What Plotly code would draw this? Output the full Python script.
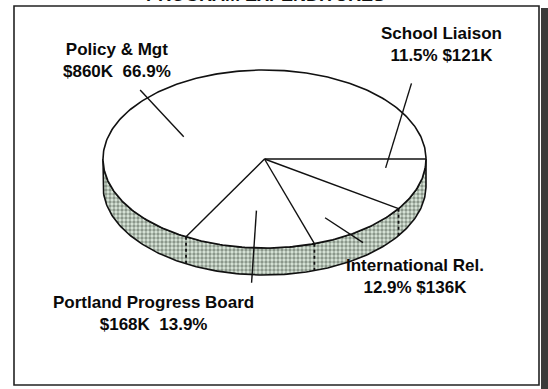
import numpy as np
import plotly.graph_objects as go

# Program expenditures (thousands of dollars), drawn clockwise from 3 o'clock
names = ["School Liaison", "International Rel.", "Portland Progress Board", "Policy & Mgt"]
amounts_k = [121, 136, 168, 860]
pct_text = ["11.5%", "12.9%", "13.9%", "66.9%"]
dollar_first = [False, False, True, True]
title_text = "PROGRAM EXPENDITURES"

# Page / pie geometry (pixel-like data units, y grows downward)
W, H = 548, 389
cx, cy = 264.5, 159.0
rx, ry = 161.5, 89.0
depth = 27.0

vals = np.array(amounts_k, dtype=float)
edges = np.concatenate([[0.0], np.cumsum(vals) / vals.sum() * 360.0])


def pt(t_deg, r=1.0, dy=0.0):
    t = np.radians(t_deg)
    return cx + r * rx * np.cos(t), cy + r * ry * np.sin(t) + dy


fig = go.Figure()

# Front side wall of the disc (visible half: 0..180 deg)
ts = np.linspace(0, 180, 181)
tx, ty = pt(ts)
bx, by = pt(ts[::-1], dy=depth)
fig.add_trace(go.Scatter(
    x=np.concatenate([tx, bx, [tx[0]]]),
    y=np.concatenate([ty, by, [ty[0]]]),
    mode="lines", fill="toself",
    fillcolor="#c9d6c9",
    fillpattern=dict(shape=".", fgcolor="#3c463c", bgcolor="#dbe8db",
                     size=4, solidity=0.55),
    line=dict(color="#111111", width=1.6),
    hoverinfo="skip", showlegend=False))

# Dotted seams on the side wall at slice boundaries
for e in edges[1:-1]:
    if 0 < e < 180:
        x0, y0 = pt(e)
        fig.add_trace(go.Scatter(
            x=[x0, x0], y=[y0, y0 + depth], mode="lines",
            line=dict(color="#111111", width=1.8, dash="dot"),
            hoverinfo="skip", showlegend=False))

# Top face
ta = np.linspace(0, 360, 361)
ex, ey = pt(ta)
fig.add_trace(go.Scatter(
    x=ex, y=ey, mode="lines", fill="toself", fillcolor="white",
    line=dict(color="#111111", width=1.6),
    hoverinfo="skip", showlegend=False))

# Radial slice boundaries
for e in edges[:-1]:
    x1, y1 = pt(e)
    fig.add_trace(go.Scatter(
        x=[cx, x1], y=[cy, y1], mode="lines",
        line=dict(color="#111111", width=1.4),
        hoverinfo="skip", showlegend=False))

# Leader lines (normalised ellipse offsets: start, end)
leaders = [
    ((0.91, -0.85), (0.75, 0.10)),     # School Liaison
    ((0.375, 0.66), (0.61, 0.94)),     # International Rel.
    ((-0.05, 0.58), (-0.08, 1.39)),    # Portland Progress Board
    ((-0.77, -0.775), (-0.50, -0.25)), # Policy & Mgt
]
for (u0, v0), (u1, v1) in leaders:
    fig.add_trace(go.Scatter(
        x=[cx + u0 * rx, cx + u1 * rx], y=[cy + v0 * ry, cy + v1 * ry],
        mode="lines", line=dict(color="#111111", width=1.4),
        hoverinfo="skip", showlegend=False))

# Slice labels
label_pos = [(441, 44), (415, 276), (153, 313), (117, 60)]
for name, amt, pct, dfirst, (lx, ly) in zip(names, amounts_k, pct_text, dollar_first, label_pos):
    money = f"${amt}K"
    line2 = f"{money}\u00a0 {pct}" if dfirst else f"{pct} {money}"
    fig.add_annotation(x=lx, y=ly, text=f"{name}<br>{line2}", showarrow=False,
                       xanchor="center", yanchor="middle",
                       font=dict(family="Liberation Sans", size=17, color="#0a0a0a",
                                 weight="bold"))

# Title sitting above the frame (mostly beyond the top edge of the page)
fig.add_annotation(x=0.485, y=1, xref="paper", yref="paper", yshift=5,
                   text=title_text, showarrow=False,
                   xanchor="center", yanchor="middle",
                   font=dict(family="Liberation Sans", size=18, color="#111111",
                             weight="bold"))

# Frame and right-hand shadow band
fig.add_shape(type="rect", x0=14, x1=539, y0=6, y1=385,
              line=dict(color="#222222", width=1.6), layer="below")
fig.add_shape(type="rect", x0=541, x1=W, y0=8, y1=H,
              line=dict(width=0), fillcolor="#3a3a3a", layer="below")

fig.update_xaxes(range=[0, W], visible=False, fixedrange=True)
fig.update_yaxes(range=[H, 0], visible=False, fixedrange=True)
fig.update_layout(width=W, height=H, margin=dict(l=0, r=0, t=0, b=0),
                  paper_bgcolor="white", plot_bgcolor="white", showlegend=False)

fig.write_html("out.html")
